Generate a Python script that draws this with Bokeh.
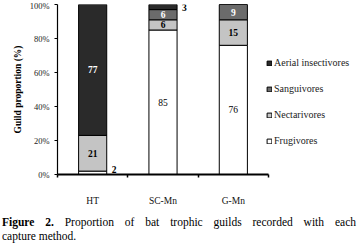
from bokeh.plotting import figure
from bokeh.models import (FixedTicker, LinearAxis, Legend, LegendItem,
                          ColumnDataSource, Range1d, Div)
from bokeh.layouts import column
from bokeh.core.properties import value
from bokeh.embed import file_html
from bokeh.resources import INLINE

methods = ["HT", "SC-Mn", "G-Mn"]
guilds = ["Frugivores", "Nectarivores", "Sanguivores", "Aerial insectivores"]
frugivores = [2, 85, 76]
nectarivores = [21, 6, 15]
sanguivores = [0, 6, 9]
aerial = [77, 3, 0]
colors = ["#ffffff", "#c4c4c4", "#6b6b6b", "#2a2a2a"]
y_ticks = [0, 20, 40, 60, 80, 100]

FONT = "Liberation Serif"
xs = [0.5, 1.5, 2.5]
src = ColumnDataSource(dict(x=xs, Frugivores=frugivores, Nectarivores=nectarivores,
                            Sanguivores=sanguivores, Aerial=aerial))

p = figure(frame_width=211, frame_height=170, output_backend="svg", toolbar_location=None,
           x_range=Range1d(0, 3), y_range=Range1d(0, 100),
           min_border_left=57, min_border_right=93, min_border_top=4,
           min_border_bottom=34, x_axis_location=None, y_axis_location=None,
           margin=0)
p.outline_line_color = None
p.xgrid.visible = False
p.ygrid.visible = False
p.background_fill_color = "white"

rs = p.vbar_stack(["Frugivores", "Nectarivores", "Sanguivores", "Aerial"], x="x",
                  width=0.4, source=src, fill_color=colors, line_color="black",
                  line_width=1)

# value labels
lab_x, lab_y, lab_t, lab_c, lab_w = [], [], [], [], []
series = [frugivores, nectarivores, sanguivores, aerial]
txtcol = ["black", "black", "white", "white"]
for i, x in enumerate(xs):
    base = 0
    for k, s in enumerate(series):
        v = s[i]
        if v >= 5:
            lab_x.append(x); lab_y.append(base + v / 2); lab_t.append(str(v)); lab_c.append(txtcol[k])
            lab_w.append("normal" if k == 0 else "bold")
        base += v
lsrc = ColumnDataSource(dict(x=lab_x, y=lab_y, t=lab_t, c=lab_c, w=lab_w))
p.text(x="x", y="y", text="t", source=lsrc, text_color="c", text_font=value(FONT),
       text_font_size="9.5px", text_font_style="w", text_align="center", text_baseline="middle")
# small values next to bars
ssrc = ColumnDataSource(dict(x=[xs[0] + 0.27, xs[1] + 0.27],
                             y=[frugivores[0] + 1, 100 - aerial[1] / 2 - 0.5],
                             t=[str(frugivores[0]), str(aerial[1])]))
p.text(x="x", y="y", text="t", source=ssrc, text_color="black", text_font=value(FONT),
       text_font_size="9.5px", text_font_style="bold", text_align="left", text_baseline="middle")

# y axis
ya = LinearAxis(ticker=FixedTicker(ticks=y_ticks),
                major_label_overrides={t: f"{t}%" for t in y_ticks})
ya.axis_label = "Guild proportion (%)"
ya.axis_label_text_font = FONT
ya.axis_label_text_font_style = "bold"
ya.axis_label_text_font_size = "9.5px"
ya.axis_label_text_color = "black"
ya.axis_label_standoff = 4
ya.major_label_text_font = FONT
ya.major_label_text_font_size = "8.5px"
ya.major_label_text_color = "#222222"
ya.major_tick_out = 3
ya.major_tick_in = 0
ya.minor_tick_out = 0
ya.minor_tick_in = 0
ya.major_label_standoff = 5
ya.axis_line_color = "black"
ya.axis_line_width = 1.2
p.add_layout(ya, "left")

# x axis: labels at centres, boundary ticks as minor ticks
xa = LinearAxis(ticker=FixedTicker(ticks=xs, minor_ticks=[0, 1, 2, 3]),
                major_label_overrides={x: m for x, m in zip(xs, methods)})
xa.major_tick_line_color = None
xa.minor_tick_out = 3
xa.minor_tick_in = 0
xa.minor_tick_line_width = 1.5
xa.minor_tick_line_color = "black"
xa.axis_line_width = 2
xa.axis_line_color = "black"
xa.major_label_text_font = FONT
xa.major_label_text_font_size = "9.5px"
xa.major_label_text_color = "#111111"
xa.major_label_standoff = 15
p.add_layout(xa, "below")

legend = Legend(items=[LegendItem(label=guilds[3], renderers=[rs[3]]),
                       LegendItem(label=guilds[2], renderers=[rs[2]]),
                       LegendItem(label=guilds[1], renderers=[rs[1]]),
                       LegendItem(label=guilds[0], renderers=[rs[0]])],
                location=(-2, 28))
legend.glyph_width = 6
legend.glyph_height = 6
legend.label_height = 10
legend.spacing = 15
legend.padding = 0
legend.margin = 0
legend.label_standoff = 2
legend.label_text_font = FONT
legend.label_text_font_size = "10px"
legend.label_text_color = "#222222"
legend.border_line_color = None
legend.background_fill_alpha = 0
p.add_layout(legend, "right")

cap = Div(text='<div style="width:356px;padding-left:2px;text-align:justify;text-align-last:justify">'
               '<b>Figure 2.</b> Proportion of bat trophic guilds recorded with each</div>'
               '<div style="padding-left:2px">capture method.</div>',
          width=361, height=40, margin=0,
          styles={"font-family": FONT, "font-size": "11.5px", "line-height": "14px",
                  "color": "black", "padding-top": "7px"})

layout = column(p, cap, margin=0)
open("out.html", "w").write(file_html(layout, INLINE))
